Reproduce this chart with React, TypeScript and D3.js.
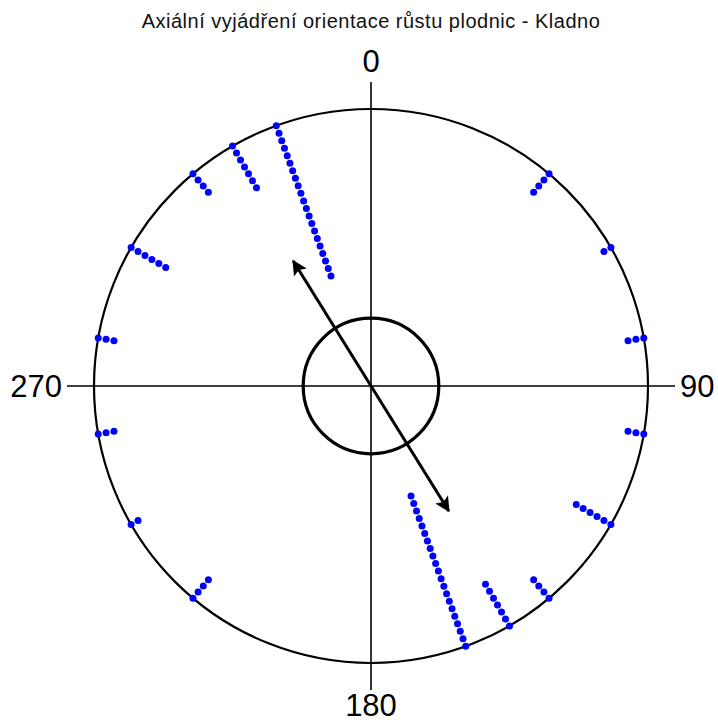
import * as d3 from "d3"
import React, { useRef, useEffect } from "react"

// axial directions (deg, 0-180) and how many observations fall in each bin
const directions = [40, 60, 80, 100, 120, 140, 150, 160]
const counts = [4, 2, 3, 3, 6, 4, 7, 21]
const axisLabels = [
  { angle: 0, text: "0" },
  { angle: 90, text: "90" },
  { angle: 180, text: "180" },
  { angle: 270, text: "270" },
]
const title = "Axiální vyjádření orientace růstu plodnic - Kladno"

function App() {
  const ref = useRef<SVGSVGElement>(null)

  useEffect(() => {
    const width = 718,
      height = 724
    const cx = 371,
      cy = 386,
      R = 277
    const svg = d3.select(ref.current)
    svg.selectAll("*").remove()

    const font = "'Liberation Sans', Arial, sans-serif"
    const r = d3.scaleLinear().domain([0, 1]).range([0, R])
    const pos = (deg: number, rad: number): [number, number] => {
      const a = (deg * Math.PI) / 180
      return [cx + rad * Math.sin(a), cy - rad * Math.cos(a)]
    }

    // stats on doubled angles (axial data)
    const n = d3.sum(counts)
    let C = 0,
      S = 0
    directions.forEach((d, i) => {
      const a = (2 * d * Math.PI) / 180
      C += counts[i] * Math.cos(a)
      S += counts[i] * Math.sin(a)
    })
    const rbar = Math.sqrt(C * C + S * S) / n
    let mean = (Math.atan2(S, C) * 180) / Math.PI
    if (mean < 0) mean += 360
    mean = mean / 2
    const rayleigh = Math.sqrt(-Math.log(0.05) / n)

    svg
      .append("text")
      .attr("x", cx)
      .attr("y", 28)
      .attr("text-anchor", "middle")
      .style("font", `20px ${font}`)
      .style("letter-spacing", "0.5px")
      .style("fill", "#111")
      .text(title)

    // axes
    const ext = R + 27
    svg
      .append("line")
      .attr("x1", cx)
      .attr("x2", cx)
      .attr("y1", cy - ext)
      .attr("y2", cy + ext)
      .attr("stroke", "#000")
      .attr("stroke-width", 1.6)
    svg
      .append("line")
      .attr("x1", cx - ext)
      .attr("x2", cx + ext)
      .attr("y1", cy)
      .attr("y2", cy)
      .attr("stroke", "#000")
      .attr("stroke-width", 1.6)

    svg
      .append("circle")
      .attr("cx", cx)
      .attr("cy", cy)
      .attr("r", r(1))
      .attr("fill", "none")
      .attr("stroke", "#000")
      .attr("stroke-width", 2.2)

    // labels
    svg
      .selectAll(".lab")
      .data(axisLabels)
      .enter()
      .append("text")
      .attr("class", "lab")
      .style("font", `31px ${font}`)
      .attr("text-anchor", (d) =>
        d.angle === 90 ? "start" : d.angle === 270 ? "end" : "middle"
      )
      .attr("x", (d) =>
        d.angle === 90 ? cx + ext + 5 : d.angle === 270 ? cx - ext - 5 : cx
      )
      .attr("y", (d) =>
        d.angle === 0 ? cy - ext - 10 : d.angle === 180 ? 716 : cy + 11
      )
      .text((d) => d.text)

    // stacked dots, plotted at both ends of the axis
    const dots: Array<[number, number]> = []
    directions.forEach((d, i) => {
      d3.range(counts[i]).forEach((k) => {
        dots.push(pos(d, r(1) - k * 8))
        dots.push(pos(d + 180, r(1) - k * 8))
      })
    })
    svg
      .selectAll(".dot")
      .data(dots)
      .enter()
      .append("circle")
      .attr("class", "dot")
      .attr("cx", (d) => d[0])
      .attr("cy", (d) => d[1])
      .attr("r", 3.5)
      .attr("fill", "#0000ff")

    // rayleigh circle
    svg
      .append("circle")
      .attr("cx", cx)
      .attr("cy", cy)
      .attr("r", r(rayleigh))
      .attr("fill", "none")
      .attr("stroke", "#000")
      .attr("stroke-width", 3.2)

    // mean axis arrow
    svg
      .append("defs")
      .append("marker")
      .attr("id", "head")
      .attr("viewBox", "0 0 10 10")
      .attr("refX", 9)
      .attr("refY", 5)
      .attr("markerUnits", "userSpaceOnUse")
      .attr("markerWidth", 20)
      .attr("markerHeight", 15)
      .attr("orient", "auto-start-reverse")
      .append("path")
      .attr("d", "M0,0L10,5L0,10L2,5Z")
      .attr("fill", "#000")

    const a = pos(mean, r(rbar) + 5)
    const b = pos(mean + 180, r(rbar) + 5)
    svg
      .append("line")
      .attr("x1", a[0])
      .attr("y1", a[1])
      .attr("x2", b[0])
      .attr("y2", b[1])
      .attr("stroke", "#000")
      .attr("stroke-width", 3)
      .attr("marker-start", "url(#head)")
      .attr("marker-end", "url(#head)")

    svg.attr("width", width).attr("height", height)
  }, [])

  return (
    <div style={{ position: "absolute", left: 0, top: 0 }}>
      <svg ref={ref} width={718} height={724} style={{ background: "#fff" }}></svg>
    </div>
  )
}

export default App
